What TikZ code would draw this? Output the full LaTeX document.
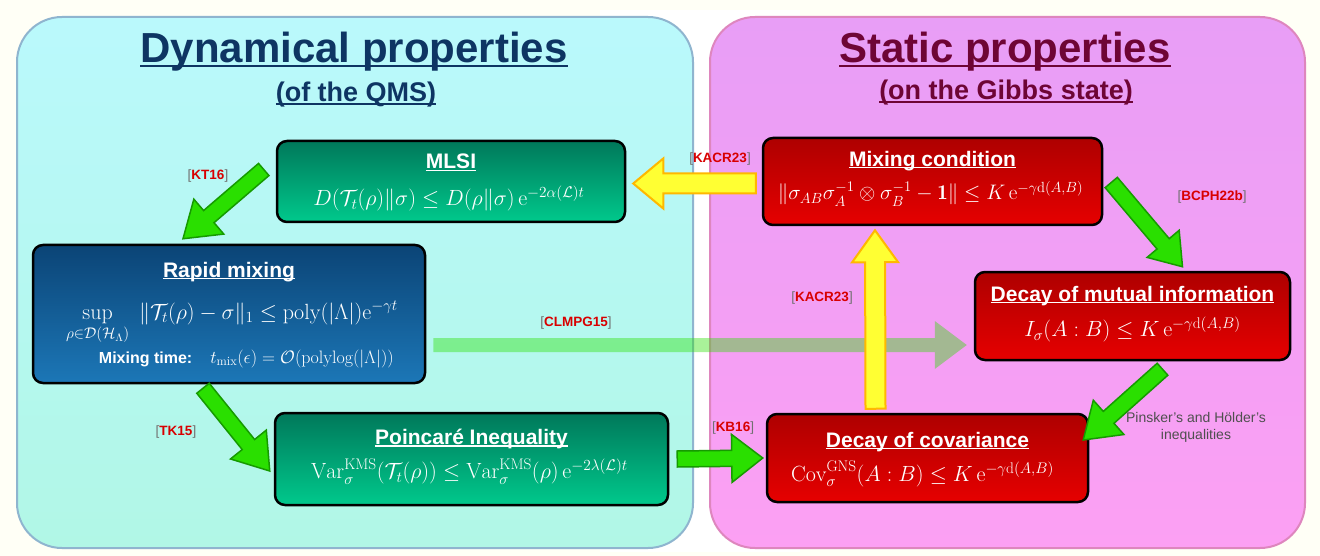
\RequirePackage{fix-cm}
\documentclass[tikz,border=0pt]{standalone}
\usepackage{amsmath,amssymb}
\usepackage{fontspec}
\newfontfamily\arialf{Liberation Sans}
\usetikzlibrary{calc}

\definecolor{bgc}{HTML}{FFFFF6}
\definecolor{dynTop}{HTML}{BAF9FC}
\definecolor{dynBot}{HTML}{B1F7E6}
\definecolor{dynEdge}{HTML}{8FB5CF}
\definecolor{statTop}{HTML}{E89EF6}
\definecolor{statBot}{HTML}{FCA0F3}
\definecolor{statEdge}{HTML}{DE86BE}
\definecolor{dynTitle}{HTML}{0E3563}
\definecolor{statTitle}{HTML}{6E0535}
\definecolor{grnTop}{HTML}{00785A}
\definecolor{grnBot}{HTML}{00C98C}
\definecolor{bluTop}{HTML}{0B4476}
\definecolor{bluBot}{HTML}{1C77B7}
\definecolor{redTop}{HTML}{AE0000}
\definecolor{redBot}{HTML}{E60000}
\definecolor{arrG}{HTML}{2ADF00}
\definecolor{arrGEdge}{HTML}{169A00}
\definecolor{arrY}{HTML}{FFFF33}
\definecolor{arrYEdge}{HTML}{FFB800}
\definecolor{refRed}{HTML}{D80000}
\definecolor{refGray}{HTML}{707070}
\definecolor{noteGray}{HTML}{4F4F4F}

% text underlined close to the baseline
\newcommand\ulbox[1]{\setbox0\hbox{#1}\rlap{\rule[-0.11em]{\wd0}{0.065em}}\box0}
% bracketed reference key
\newcommand\refkey[1]{{\color{refGray}[}{\color{refRed}\bfseries #1}{\color{refGray}]}}

% block arrow: style, from, to, shaft half width, head half width, head length
\newcommand\blockarrow[6]{%
  \path (#2) coordinate (ba-s) (#3) coordinate (ba-t);
  \path ($(ba-t)!#6!(ba-s)$) coordinate (ba-b);
  \filldraw[#1] ($(ba-s)!#4!90:(ba-t)$) -- ($(ba-b)!#4!90:(ba-t)$)
    -- ($(ba-b)!#5!90:(ba-t)$) -- (ba-t) -- ($(ba-b)!#5!-90:(ba-t)$)
    -- ($(ba-b)!#4!-90:(ba-t)$) -- ($(ba-s)!#4!-90:(ba-t)$) -- cycle;
}

\tikzset{
  panel/.style={rounded corners=45pt, line width=2pt},
  box/.style={rounded corners=10pt, draw=black, line width=2.5pt, inner sep=0pt},
  greenbox/.style={box, top color=grnTop, bottom color=grnBot},
  bluebox/.style={box, top color=bluTop, bottom color=bluBot},
  redbox/.style={box, top color=redTop, bottom color=redBot},
  boxtitle/.style={text=white, font=\arialf\bfseries\fontsize{21}{24}\selectfont, inner sep=0pt},
  formula/.style={text=white, font=\fontsize{22}{26}\selectfont, inner sep=0pt},
  bigtitle/.style={font=\arialf\bfseries\fontsize{42}{46}\selectfont, inner sep=0pt},
  subtitle/.style={font=\arialf\bfseries\fontsize{27}{30}\selectfont, inner sep=0pt},
  reflabel/.style={font=\arialf\fontsize{13.5}{16}\selectfont, inner sep=0pt},
  garrow/.style={fill=arrG, draw=arrGEdge, line width=1.5pt, line join=miter},
  yarrow/.style={fill=arrY, draw=arrYEdge, line width=2pt, line join=miter},
  farrow/.style={fill=arrG, fill opacity=0.4, draw=none},
}

\begin{document}
\begin{tikzpicture}[x=1pt, y=-1pt]
  % page
  \fill[bgc] (0,0) rectangle (1320,556);
  \useasboundingbox (0,0) rectangle (1320,556);
  \fill[white] (600,10) rectangle (800,552);

  % the two panels
  \path[panel, draw=dynEdge, top color=dynTop, bottom color=dynBot]
    (17,17) rectangle (693,548);
  \path[panel, draw=statEdge, top color=statTop, bottom color=statBot]
    (710,17) rectangle (1305,548);

  \node[bigtitle, text=dynTitle] (dyn-t) at (354,52) {\ulbox{Dynamical properties}};
  \node[subtitle, text=dynTitle] (dyn-s) at (356,95) {\ulbox{(of the QMS)}};
  \node[bigtitle, text=statTitle] (stat-t) at (1005,52) {\ulbox{Static properties}};
  \node[subtitle, text=statTitle] (stat-s) at (1006,93) {\ulbox{(on the Gibbs state)}};

  % property boxes
  \node[greenbox, minimum width=348pt, minimum height=81pt] (mlsi) at (451,181.5) {};
  \node[boxtitle] (mlsi-t) at ($(mlsi.north)+(0,23)$) {\ulbox{MLSI}};
  \node[formula] (mlsi-f) at ($(mlsi.north)+(-2,59)$)
    {$D(\mathcal{T}_t(\rho)\|\sigma) \le D(\rho\|\sigma)\,\mathrm{e}^{-2\alpha(\mathcal{L})t}$};

  \node[bluebox, minimum width=392pt, minimum height=138pt] (rapid) at (229,314) {};
  \node[boxtitle] (rapid-t) at ($(rapid.north)+(0,28)$) {\ulbox{Rapid mixing}};
  \node[formula] (rapid-f) at ($(rapid.north)+(3,79)$)
    {$\displaystyle\sup_{\rho\in\mathcal{D}(\mathcal{H}_\Lambda)}\;\|\mathcal{T}_t(\rho)-\sigma\|_1 \le \mathrm{poly}(|\Lambda|)\mathrm{e}^{-\gamma t}$};
  \node[formula, anchor=west, font=\fontsize{18}{21}\selectfont] (rapid-m) at ($(rapid.north west)+(67,115)$)
    {{\arialf\bfseries\fontsize{16}{18}\selectfont Mixing time:}\quad
     $t_{\mathrm{mix}}(\epsilon) = \mathcal{O}(\mathrm{polylog}(|\Lambda|))$};

  \node[greenbox, minimum width=393pt, minimum height=92pt] (poinc) at (471.5,459) {};
  \node[boxtitle] (poinc-t) at ($(poinc.north)+(0,27)$) {\ulbox{Poincaré Inequality}};
  \node[formula] (poinc-f) at ($(poinc.north)+(-2,60)$)
    {$\mathrm{Var}_\sigma^{\mathrm{KMS}}(\mathcal{T}_t(\rho)) \le \mathrm{Var}_\sigma^{\mathrm{KMS}}(\rho)\,\mathrm{e}^{-2\lambda(\mathcal{L})t}$};

  \node[redbox, minimum width=339pt, minimum height=87pt] (mixc) at (932.5,181.5) {};
  \node[boxtitle] (mixc-t) at ($(mixc.north)+(0,24)$) {\ulbox{Mixing condition}};
  \node[formula, font=\fontsize{21}{25}\selectfont] (mixc-f) at ($(mixc.north)+(-2,57)$)
    {$\|\sigma_{AB}\sigma_A^{-1}\otimes\sigma_B^{-1}-\mathbf{1}\| \le K\,\mathrm{e}^{-\gamma\mathrm{d}(A,B)}$};

  \node[redbox, minimum width=315pt, minimum height=88pt] (mi) at (1132.5,316) {};
  \node[boxtitle] (mi-t) at ($(mi.north)+(0,25)$) {\ulbox{Decay of mutual information}};
  \node[formula] (mi-f) at ($(mi.north)+(0,59)$)
    {$I_\sigma(A:B) \le K\,\mathrm{e}^{-\gamma\mathrm{d}(A,B)}$};

  \node[redbox, minimum width=321pt, minimum height=88pt] (cov) at (927.5,458) {};
  \node[boxtitle] (cov-t) at ($(cov.north)+(0,29)$) {\ulbox{Decay of covariance}};
  \node[formula] (cov-f) at ($(cov.north)+(-5,61)$)
    {$\mathrm{Cov}_\sigma^{\mathrm{GNS}}(A:B) \le K\,\mathrm{e}^{-\gamma\mathrm{d}(A,B)}$};

  % implications
  \blockarrow{farrow}{$(rapid.east)+(7,31)$}{$(mi.west)+(-7,29)$}{7pt}{24pt}{32pt}
  \blockarrow{garrow}{$(mlsi.west)+(-12,-12)$}{$(rapid.north)+(-46,-5)$}{8pt}{23pt}{34pt}
  \blockarrow{garrow}{$(rapid.south)+(-26,4)$}{$(poinc.west)+(-4,12)$}{8pt}{23pt}{34pt}
  \blockarrow{garrow}{$(poinc.east)+(8,0)$}{$(cov.west)+(-3,0)$}{8pt}{24pt}{31pt}
  \blockarrow{yarrow}{$(mixc.west)+(-6,2)$}{$(mlsi.east)+(7,2)$}{10pt}{25pt}{30pt}
  \blockarrow{yarrow}{$(cov.north)+(-52,-4)$}{$(mixc.south)+(-57.5,4)$}{10pt}{23pt}{32pt}
  \blockarrow{garrow}{$(mixc.east)+(8,1)$}{$(mi.north)+(50,-4)$}{8pt}{21pt}{30pt}
  \blockarrow{garrow}{$(mi.south)+(30,8)$}{$(cov.east)+(-6,-18)$}{8pt}{23pt}{34pt}

  % references
  \node[reflabel] (r-kt16) at (208,176) {\refkey{KT16}};
  \node[reflabel] (r-tk15) at (176,432) {\refkey{TK15}};
  \node[reflabel] (r-kb16) at (733,428) {\refkey{KB16}};
  \node[reflabel] (r-kacr1) at (720,159) {\refkey{KACR23}};
  \node[reflabel] (r-kacr2) at (822,298) {\refkey{KACR23}};
  \node[reflabel] (r-bcph) at (1212,197) {\refkey{BCPH22b}};
  \node[reflabel] (r-clmpg) at (576,323) {\refkey{CLMPG15}};
  \node[reflabel, text=noteGray, align=center, font=\arialf\fontsize{14}{17}\selectfont]
    (r-pinsker) at (1196,427) {Pinsker’s and Hölder’s\\inequalities};
\end{tikzpicture}
\end{document}
